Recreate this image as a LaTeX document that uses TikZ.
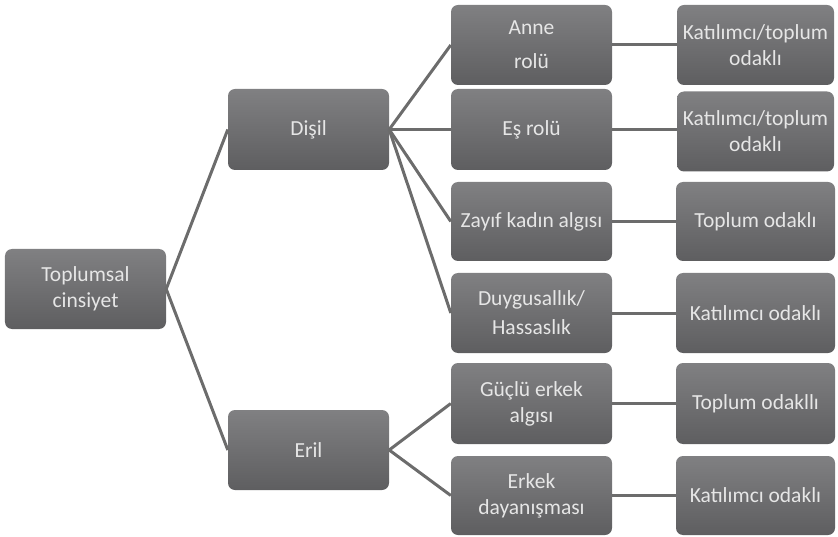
\documentclass[tikz,border=0pt]{standalone}
\usepackage{fontspec}
\setmainfont{Carlito}
\definecolor{boxtop}{HTML}{808082}
\definecolor{boxbot}{HTML}{5E5E60}
\definecolor{txt}{HTML}{E6E6E6}
\definecolor{ln}{HTML}{6C6C6C}
\begin{document}
\begin{tikzpicture}[x=1bp,y=-1bp,
  box/.style={rectangle, rounded corners=7bp, top color=boxtop, bottom color=boxbot,
    draw=none, text=txt, align=center, inner sep=0pt,
    font=\fontsize{21.5bp}{26bp}\selectfont},
  conn/.style={draw=ln, line width=3bp}]
\useasboundingbox (0,0) rectangle (838,537);
\newcommand{\bx}[6]{\node[box, minimum width=#4bp, minimum height=#5bp] (#1) at (#2,#3) {#6};}
\bx{ts}{85.5}{289}{161}{80}{Toplumsal\\cinsiyet}
\bx{di}{308.5}{129.5}{161}{81}{Dişil}
\bx{er}{308.5}{450}{161}{80}{Eril}
\bx{an}{531.5}{45}{161}{80}{Anne\\[8bp]rolü}
\bx{es}{531.5}{129.5}{161}{81}{Eş rolü}
\bx{za}{531.5}{221.5}{161}{79}{Zayıf kadın algısı}
\bx{du}{531.5}{313}{161}{80}{Duygusallık/\\[3bp]Hassaslık}
\bx{gu}{531.5}{403.5}{161}{81}{Güçlü erkek\\algısı}
\bx{ek}{531.5}{495.5}{161}{79}{Erkek\\dayanışması}
\bx{k1}{755.5}{45}{157}{80}{Katılımcı/toplum\\odaklı}
\bx{k2}{755.5}{131.5}{157}{80}{Katılımcı/toplum\\odaklı}
\bx{t1}{755.5}{221.5}{159}{79}{Toplum odaklı}
\bx{k3}{755.5}{313}{159}{80}{Katılımcı odaklı}
\bx{t2}{755.5}{403.5}{159}{81}{Toplum odakllı}
\bx{k4}{755.5}{495.5}{159}{79}{Katılımcı odaklı}
\draw[conn] (ts.east) -- (di.west);
\draw[conn] (ts.east) -- (er.west);
\foreach \c in {an,es,za,du} \draw[conn] (di.east) -- (\c.west);
\foreach \c in {gu,ek} \draw[conn] (er.east) -- (\c.west);
\draw[conn] (an.east) -- (k1.west);
\draw[conn] (es.east) -- (es.east -| k2.west);
\draw[conn] (za.east) -- (t1.west);
\draw[conn] (du.east) -- (k3.west);
\draw[conn] (gu.east) -- (t2.west);
\draw[conn] (ek.east) -- (k4.west);
\end{tikzpicture}
\end{document}
